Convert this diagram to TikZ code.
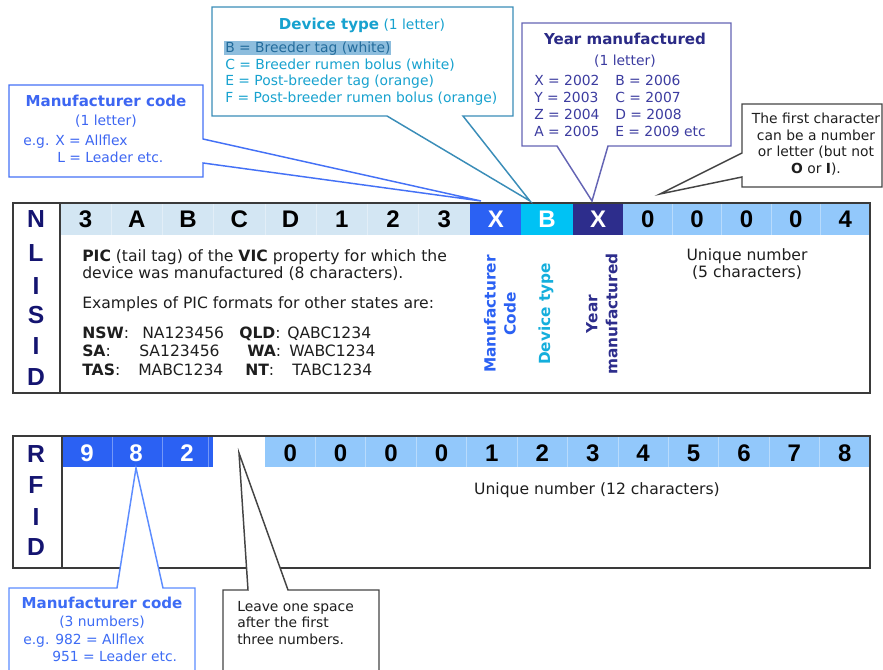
\documentclass[tikz,border=0pt]{standalone}
\usepackage{fontspec}
\setmainfont{DejaVu Sans}
\newfontfamily\hdrfont{Liberation Sans}

\definecolor{frame}{HTML}{3A3A3A}
\definecolor{lightcell}{HTML}{D3E6F3}
\definecolor{skycell}{HTML}{92C8FB}
\definecolor{mfrblue}{HTML}{2B61F3}
\definecolor{devcyan}{HTML}{00C2F4}
\definecolor{yearnavy}{HTML}{2D2D8C}
\definecolor{sidenavy}{HTML}{141470}
\definecolor{bodytext}{HTML}{1E1E1E}
\definecolor{mfrline}{HTML}{4471F6}
\definecolor{mfrtext}{HTML}{3D66F2}
\definecolor{devline}{HTML}{3A8DB8}
\definecolor{devtext}{HTML}{17A2CF}
\definecolor{devhl}{HTML}{8DBDDD}
\definecolor{devhltext}{HTML}{236C9C}
\definecolor{yearline}{HTML}{6464B4}
\definecolor{yeartext}{HTML}{3C3CA0}
\definecolor{yeartitle}{HTML}{2A2A86}
\definecolor{noteline}{HTML}{444444}
\definecolor{rfidmfrline}{HTML}{5C8CFF}
\definecolor{rfidmfrtext}{HTML}{3D6CF5}
\definecolor{vdev}{HTML}{14AEDC}

\begin{document}
\begin{tikzpicture}[x=0.75pt,y=-0.75pt,
  boxframe/.style={draw=frame,line width=1.1pt},
  cellsep/.style={draw=white,draw opacity=.35,line width=.6pt},
  hchar/.style={inner sep=0pt,anchor=base,font=\hdrfont\bfseries\fontsize{18}{18}\selectfont},
  sidechar/.style={inner sep=0pt,anchor=base,text=sidenavy,font=\hdrfont\bfseries\fontsize{18.5}{18.5}\selectfont},
  body/.style={inner sep=0pt,anchor=base west,text=bodytext,font=\fontsize{11.7}{12.75}\selectfont},
  bodyc/.style={body,anchor=base},
  small/.style={inner sep=0pt,anchor=base west,font=\fontsize{10.4}{12.75}\selectfont},
  smallc/.style={small,anchor=base},
  title/.style={inner sep=0pt,anchor=base,font=\bfseries\fontsize{11.3}{12.75}\selectfont},
  vlabel/.style={inner sep=0pt,rotate=90,align=center,font=\bfseries\fontsize{11.5}{15}\selectfont},
  callout/.style={fill=white,line width=1.1pt,line join=miter}
]
\useasboundingbox (0,0) rectangle (883,670);
\clip (0,0) rectangle (883,670);

% ---------- NLISID strip ----------
\fill[lightcell] (60,203) rectangle (470,235);
\fill[mfrblue]   (470,203) rectangle (521,235);
\fill[devcyan]   (521,203) rectangle (573,235);
\fill[yearnavy]  (573,203) rectangle (623,235);
\fill[skycell]   (623,203) rectangle (870,235);
\foreach \i in {1,...,7} \draw[cellsep] ({60+51.25*\i},203) -- ++(0,32);
\foreach \i in {1,...,4} \draw[cellsep] ({623+49.4*\i},203) -- ++(0,32);
\draw[boxframe] (13,203) rectangle (870,393);
\draw[boxframe] (60,203) -- (60,393);

\foreach \c [count=\i] in {3,A,B,C,D,1,2,3}
  \node[hchar,text=black] (pic\i) at ({60+51.25*(\i-0.5)},228) {\c};
\node[hchar,text=white] (mfrX) at (496,228) {X};
\node[hchar,text=white] (devB) at (547,228) {B};
\node[hchar,text=white] (yearX) at (598,228) {X};
\foreach \c [count=\i] in {0,0,0,0,4}
  \node[hchar,text=black] (uniq\i) at ({623+49.4*(\i-0.5)},228) {\c};

\foreach \c/\y [count=\i] in {N/228,L/262,I/295,S/324,I/355,D/386}
  \node[sidechar] (nlis\i) at (36,\y) {\c};

\node[body] (picA) at (82,262) {\textbf{PIC} (tail tag) of the \textbf{VIC} property for which the};
\node[body] (picB) at (82,279) {device was manufactured (8 characters).};
\node[body] (picC) at (82,309) {Examples of PIC formats for other states are:};
\node[body] (nswL) at (82,339) {\textbf{NSW}:};
\node[body] (nswV) at (142,339) {NA123456};
\node[body] (qldL) at (239,339) {\textbf{QLD}:};
\node[body] (qldV) at (287,339) {QABC1234};
\node[body] (saL)  at (82,357) {\textbf{SA}:};
\node[body] (saV)  at (139,357) {SA123456};
\node[body] (waL)  at (247,357) {\textbf{WA}:};
\node[body] (waV)  at (289,357) {WABC1234};
\node[body] (tasL) at (82,376) {\textbf{TAS}:};
\node[body] (tasV) at (138,376) {MABC1234};
\node[body] (ntL)  at (245,376) {\textbf{NT}:};
\node[body] (ntV)  at (292,376) {TABC1234};

\node[vlabel,text=mfrblue] (vMfr) at (500,314) {Manufacturer\\Code};
\node[vlabel,text=vdev] (vDev) at (546,314) {Device type};
\node[vlabel,text=yearnavy] (vYear) at (602,314) {Year\\manufactured};

\node[bodyc] (uniqA) at (747,261) {Unique number};
\node[bodyc] (uniqB) at (747,278) {(5 characters)};

% ---------- RFID strip ----------
\fill[mfrblue] (62,436) rectangle (213,467);
\fill[skycell] (265,436) rectangle (870,467);
\foreach \x in {112,162,208} \draw[cellsep] (\x,436) -- ++(0,31);
\foreach \i in {1,...,11} \draw[cellsep] ({265+50.42*\i},436) -- ++(0,31);
\draw[boxframe] (13,436) rectangle (870,568);
\draw[boxframe] (62,436) -- (62,568);

\foreach \c/\x [count=\i] in {9/87,8/136,2/187}
  \node[hchar,text=white] (cc\i) at (\x,462) {\c};
\foreach \c [count=\i] in {0,0,0,0,1,2,3,4,5,6,7,8}
  \node[hchar,text=black] (rnum\i) at ({265+50.42*(\i-0.5)},462) {\c};

\foreach \c/\y [count=\i] in {R/463,F/494,I/526,D/556}
  \node[sidechar] (rfid\i) at (36,\y) {\c};

\node[bodyc] (uniq12) at (597,495) {Unique number (12 characters)};

% ---------- callouts ----------
\coordinate (tipMfr)  at (481,201);
\coordinate (tipDev)  at (530,201);
\coordinate (tipYear) at (592,201);
\coordinate (tipFirst) at (660,194);
\coordinate (tipCC)   at (136,468);
\coordinate (tipGap)  at (239,453);

% manufacturer code (NLISID)
\draw[callout,draw=mfrline] (9,85) -- (203,85) -- (203,139) -- (tipMfr)
  -- (203,163) -- (203,177) -- (9,177) -- cycle;
\node[title,text=mfrtext] (mfrT) at (106,107) {Manufacturer code};
\node[smallc,text=mfrtext] (mfrS) at (106,126) {(1 letter)};
\node[small,text=mfrtext] (mfrE1) at (23,146) {e.g. X = Allflex};
\node[small,text=mfrtext] (mfrE2) at (57,163) {L = Leader etc.};

% device type
\draw[callout,draw=devline] (212,7) -- (513,7) -- (513,116) -- (463,116) -- (tipDev)
  -- (387,116) -- (212,116) -- cycle;
\node[smallc,text=devtext] (devT) at (362,30) {{\bfseries\fontsize{11.3}{12.75}\selectfont Device type} (1 letter)};
\fill[devhl] (224,41.5) rectangle (391,55.5);
\node[small,text=devhltext] (devB1) at (225,53) {B = Breeder tag (white)};
\node[small,text=devtext] (devC1) at (225,69.5) {C = Breeder rumen bolus (white)};
\node[small,text=devtext] (devE1) at (225,86) {E = Post-breeder tag (orange)};
\node[small,text=devtext] (devF1) at (225,102.5) {F = Post-breeder rumen bolus (orange)};

% year manufactured
\draw[callout,draw=yearline] (522,23) -- (731,23) -- (731,146) -- (608,146) -- (tipYear)
  -- (557,146) -- (522,146) -- cycle;
\node[title,text=yeartitle] (yearT) at (625,45) {Year manufactured};
\node[smallc,text=yeartext] (yearS) at (625,65.5) {(1 letter)};
\foreach \a/\b/\y [count=\i] in {X = 2002/B = 2006/86,Y = 2003/C = 2007/103,Z = 2004/D = 2008/120,A = 2005/E = 2009 etc/137}{
  \node[small,text=yeartext] (yl\i) at (534,\y) {\a};
  \node[small,text=yeartext] (yr\i) at (615,\y) {\b};
}

% first character note
\draw[callout,draw=noteline] (742,104) -- (882,104) -- (882,187) -- (742,187) -- (742,177)
  -- (tipFirst) -- (742,153) -- cycle;
\node[smallc,text=bodytext] (firstA) at (816,124) {The first character};
\node[smallc,text=bodytext] (firstB) at (816,140.5) {can be a number};
\node[smallc,text=bodytext] (firstC) at (816,157) {or letter (but not};
\node[smallc,text=bodytext] (firstD) at (816,173.5) {\textbf{O} or \textbf{I}).};

% manufacturer code (RFID)
\draw[callout,draw=rfidmfrline] (9,700) -- (9,588) -- (117,588) -- (tipCC)
  -- (163,588) -- (195,588) -- (195,700);
\node[title,text=rfidmfrtext] (ccT) at (102,609) {Manufacturer code};
\node[smallc,text=rfidmfrtext] (ccS) at (102,626) {(3 numbers)};
\node[small,text=rfidmfrtext] (ccE1) at (23,644) {e.g. 982 = Allflex};
\node[small,text=rfidmfrtext] (ccE2) at (52,661) {951 = Leader etc.};

% gap note
\draw[callout,draw=noteline] (223,700) -- (223,590) -- (248,590) -- (tipGap)
  -- (288,590) -- (379,590) -- (379,700);
\node[small,text=bodytext] (gapA) at (237,611) {Leave one space};
\node[small,text=bodytext] (gapB) at (237,627.5) {after the first};
\node[small,text=bodytext] (gapC) at (237,644) {three numbers.};
\end{tikzpicture}
\end{document}
